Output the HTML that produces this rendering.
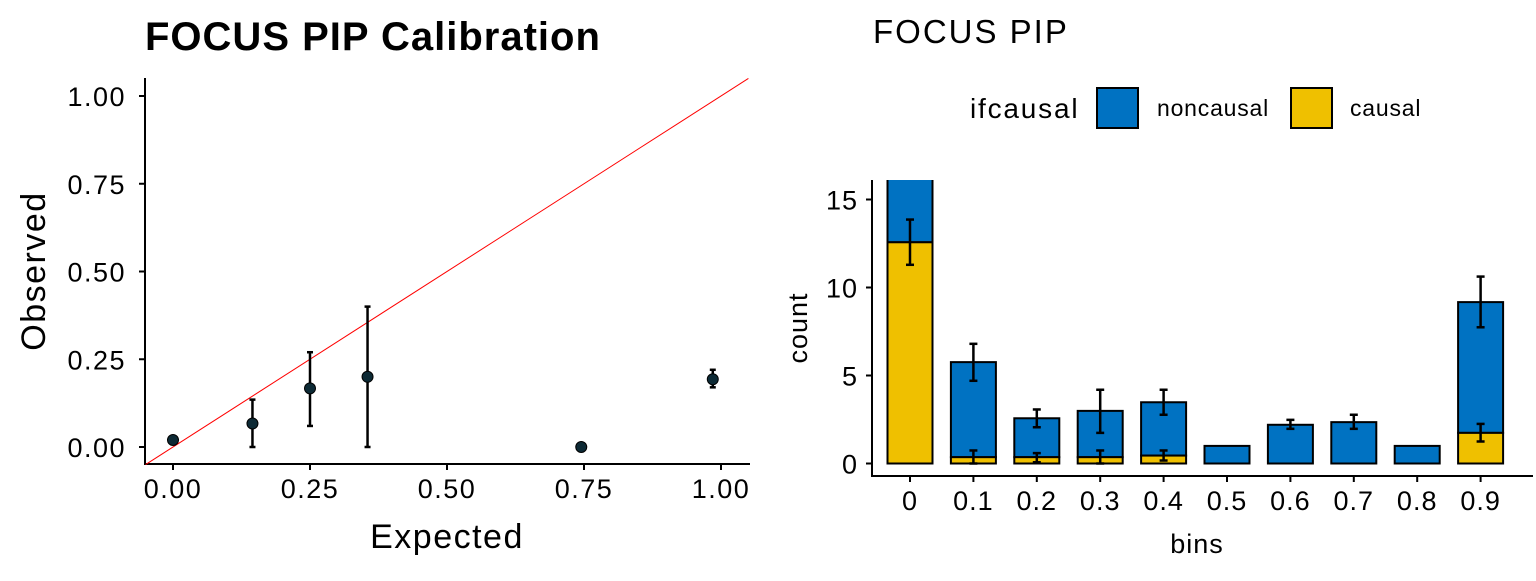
<!DOCTYPE html>
<html><head><meta charset="utf-8"><style>
body{margin:0;background:#fff;}
svg text{font-family:"Liberation Sans",Arial,sans-serif;}
</style></head><body>
<svg width="1536" height="576" xmlns="http://www.w3.org/2000/svg">
<g id="left"></g>
<g id="right"></g>
</svg>
<script>
// Left chart data
const calExpected = [0.0, 0.145, 0.25, 0.355, 0.745, 0.985];
const calObserved = [0.02, 0.067, 0.167, 0.2, 0.0, 0.193];
const calLow = [null, 0.0, 0.06, 0.0, null, 0.17];
const calHigh = [null, 0.135, 0.27, 0.4, null, 0.22];
const calTicks = [0, 0.25, 0.5, 0.75, 1.0];
const calTickLabels = ["0.00", "0.25", "0.50", "0.75", "1.00"];
// Right chart data
const bins = ["0", "0.1", "0.2", "0.3", "0.4", "0.5", "0.6", "0.7", "0.8", "0.9"];
const causalVals = [12.57, 0.36, 0.36, 0.36, 0.45, 0, 0, 0, 0, 1.74];
const totalVals = [20, 5.76, 2.57, 2.99, 3.48, 1.0, 2.2, 2.35, 1.0, 9.17];
const totalLow = [null, 4.7, 2.06, 1.74, 2.77, null, 1.97, 1.97, null, 7.74];
const totalHigh = [null, 6.8, 3.07, 4.19, 4.19, null, 2.48, 2.77, null, 10.62];
const causalLow = [11.29, 0, 0.07, 0, 0.17, null, null, null, null, 1.25];
const causalHigh = [13.86, 0.74, 0.59, 0.74, 0.74, null, null, null, null, 2.25];
const countTicks = [0, 5, 10, 15];

const NS = "http://www.w3.org/2000/svg";
function mk(parent, tag, attrs, txt){const e=document.createElementNS(NS,tag);for(const k in attrs)e.setAttribute(k,attrs[k]);if(txt!==undefined)e.textContent=txt;parent.appendChild(e);return e;}

// ---- Left panel
const L=document.getElementById('left');
const lx=v=>173+v*548, ly=v=>447-v*351;
mk(L,'text',{x:145,y:50,'font-size':40,'font-weight':'bold','letter-spacing':1,fill:'#000'},"FOCUS PIP Calibration");
const yl=mk(L,'line',{x1:145,y1:78,x2:145,y2:465,stroke:'#000','stroke-width':2});

const xl=mk(L,'line',{x1:144,y1:464,x2:750,y2:464,stroke:'#000','stroke-width':2});

calTicks.forEach((t,i)=>{
  mk(L,'line',{x1:139,y1:ly(t),x2:145,y2:ly(t),stroke:'#000','stroke-width':2});
  const a=mk(L,'text',{x:126,y:ly(t)+10,'font-size':27,'letter-spacing':1.5,'text-anchor':'end',fill:'#000'},calTickLabels[i]);
  
  mk(L,'line',{x1:lx(t),y1:464,x2:lx(t),y2:470,stroke:'#000','stroke-width':2});
  const b=mk(L,'text',{x:lx(t),y:498,'font-size':27,'letter-spacing':1.5,'text-anchor':'middle',fill:'#000'},calTickLabels[i]);
  
});
const xt=mk(L,'text',{x:447,y:548,'font-size':34,'letter-spacing':1.5,'text-anchor':'middle'},"Expected");

const ytt=mk(L,'text',{x:45,y:271,'font-size':34,'letter-spacing':1.5,'text-anchor':'middle',transform:'rotate(-90 45 271)'},"Observed");

const rl=mk(L,'line',{x1:lx(-0.05),y1:ly(-0.05),x2:lx(1.05),y2:ly(1.05),stroke:'#ff0000','stroke-width':1});

calExpected.forEach((e,i)=>{
  if(calLow[i]!==null){
    const g=mk(L,'g',{});
    
    mk(g,'line',{x1:lx(e),y1:ly(calLow[i]),x2:lx(e),y2:ly(calHigh[i]),stroke:'#000','stroke-width':2.5});
    mk(g,'line',{x1:lx(e)-3,y1:ly(calLow[i]),x2:lx(e)+3,y2:ly(calLow[i]),stroke:'#000','stroke-width':2.5});
    mk(g,'line',{x1:lx(e)-3,y1:ly(calHigh[i]),x2:lx(e)+3,y2:ly(calHigh[i]),stroke:'#000','stroke-width':2.5});
  }
  const c=mk(L,'circle',{cx:lx(e),cy:ly(calObserved[i]),r:5.5,fill:'#0d2a35',stroke:'#000','stroke-width':1});
  
});

// ---- Right panel
const R=document.getElementById('right');
const bx=i=>910+i*63.4, by=v=>463.5-v*17.6, bw=45;
mk(R,'text',{x:873,y:43,'font-size':33,'letter-spacing':2,fill:'#000'},"FOCUS PIP");
mk(R,'text',{x:970,y:118,'font-size':28,'letter-spacing':1.8},"ifcausal");
const l1=mk(R,'rect',{x:1097,y:88,width:41,height:40,fill:'#0072c2',stroke:'#000','stroke-width':2});

mk(R,'text',{x:1157,y:116,'font-size':23,'letter-spacing':0.8},"noncausal");
const l2=mk(R,'rect',{x:1291,y:88,width:41,height:40,fill:'#efc000',stroke:'#000','stroke-width':2});

mk(R,'text',{x:1350,y:116,'font-size':23,'letter-spacing':0.8},"causal");
const defs=mk(R,'clipPath',{id:'pc'});mk(defs,'rect',{x:873,y:180,width:660,height:296});
const plot=mk(R,'g',{'clip-path':'url(#pc)'});

function ebar(parent,x,lo,hi){
  const g=mk(parent,'g',{});
  
  mk(g,'line',{x1:x,y1:by(lo),x2:x,y2:by(hi),stroke:'#000','stroke-width':2.5});
  mk(g,'line',{x1:x-4,y1:by(lo),x2:x+4,y2:by(lo),stroke:'#000','stroke-width':2.5});
  mk(g,'line',{x1:x-4,y1:by(hi),x2:x+4,y2:by(hi),stroke:'#000','stroke-width':2.5});
}
bins.forEach((b,i)=>{
  const x=bx(i);
  const nb=mk(plot,'rect',{x:x-bw/2,y:by(totalVals[i]),width:bw,height:by(causalVals[i])-by(totalVals[i]),fill:'#0072c2',stroke:'#000','stroke-width':2});
  
  const cb=mk(plot,'rect',{x:x-bw/2,y:by(causalVals[i]),width:bw,height:by(0)-by(causalVals[i]),fill:'#efc000',stroke:'#000','stroke-width':2});
  
  if(totalLow[i]!==null) ebar(plot,x,totalLow[i],totalHigh[i]);
  if(causalLow[i]!==null) ebar(plot,x,causalLow[i],causalHigh[i]);
  mk(R,'line',{x1:x,y1:476,x2:x,y2:482,stroke:'#000','stroke-width':2});
  const t=mk(R,'text',{x:x,y:510,'font-size':27,'letter-spacing':1,'text-anchor':'middle'},b);
  
});
const ra=mk(R,'line',{x1:872,y1:180,x2:872,y2:477,stroke:'#000','stroke-width':2});

const rx=mk(R,'line',{x1:871,y1:476,x2:1533,y2:476,stroke:'#000','stroke-width':2});

countTicks.forEach(t=>{
  mk(R,'line',{x1:866,y1:by(t),x2:872,y2:by(t),stroke:'#000','stroke-width':2});
  const a=mk(R,'text',{x:858,y:by(t)+10,'font-size':27,'letter-spacing':1,'text-anchor':'end'},String(t));
  
});
mk(R,'text',{x:1197,y:553,'font-size':27,'letter-spacing':1,'text-anchor':'middle'},"bins");
mk(R,'text',{x:807,y:328,'font-size':27,'letter-spacing':1,'text-anchor':'middle',transform:'rotate(-90 807 328)'},"count");
</script>
</body></html>
